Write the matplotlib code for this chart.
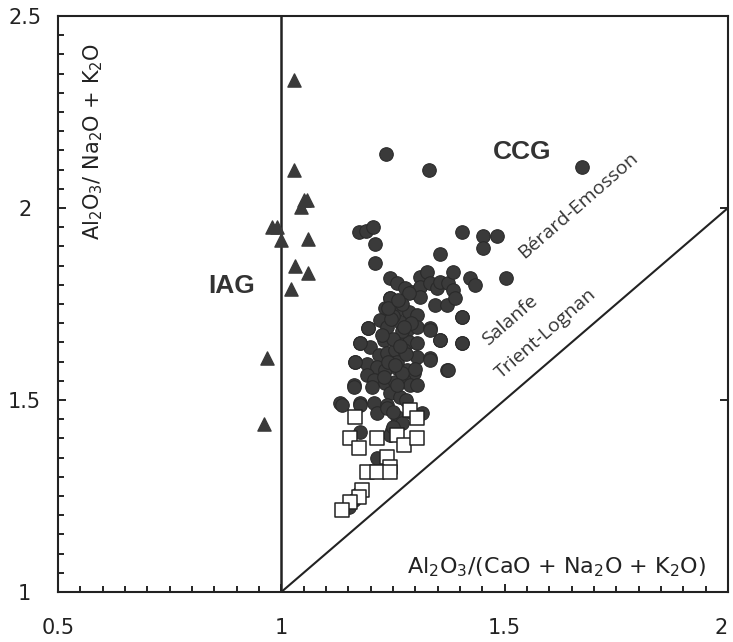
import matplotlib.pyplot as plt
from matplotlib.ticker import MultipleLocator

plt.rcParams['font.family'] = ['DejaVu Sans']
plt.rcParams['mathtext.default'] = 'regular'

# Datos
# IAG (triangulos)
tri_x = [1.029, 1.029, 1.058, 1.050, 1.043, 0.980, 0.990, 1.000, 1.060,
         1.030, 1.060, 1.022, 0.969, 0.962]
tri_y = [2.333, 2.100, 2.020, 2.020, 2.003, 1.950, 1.950, 1.917, 1.920,
         1.850, 1.830, 1.790, 1.609, 1.438]

# CCG (circulos)
circ_x = [1.235, 1.331, 1.674, 1.174, 1.190, 1.205, 1.210, 1.405, 1.452,
          1.483, 1.452, 1.355, 1.210, 1.504,
          1.244, 1.259, 1.277, 1.292, 1.311, 1.326, 1.311, 1.333, 1.348,
          1.356, 1.374, 1.385, 1.385, 1.423, 1.434, 1.311, 1.345, 1.371,
          1.389, 1.285, 1.404, 1.244, 1.233, 1.259, 1.285, 1.304, 1.221,
          1.236, 1.266, 1.281, 1.304, 1.333, 1.356, 1.404, 1.195, 1.177,
          1.199, 1.229, 1.259, 1.285, 1.304, 1.218, 1.236, 1.255, 1.274,
          1.304, 1.333, 1.166, 1.192, 1.214, 1.233, 1.259, 1.281, 1.296,
          1.371, 1.192, 1.207, 1.233, 1.255, 1.274, 1.289, 1.304, 1.162,
          1.203, 1.244, 1.266, 1.132, 1.177, 1.207, 1.236,
          1.136, 1.162, 1.166, 1.195, 1.177, 1.244, 1.404, 1.356, 1.404,
          1.333, 1.374, 1.333, 1.315, 1.177, 1.214, 1.236, 1.177, 1.259,
          1.248, 1.244, 1.214, 1.162, 1.173, 1.151,
          1.250, 1.270, 1.260, 1.280, 1.250, 1.270, 1.290, 1.240, 1.270,
          1.300, 1.260, 1.280, 1.250, 1.290, 1.270, 1.250,
          1.225, 1.245, 1.265, 1.230, 1.255, 1.275, 1.240, 1.262]
circ_y = [2.140, 2.099, 2.107, 1.938, 1.940, 1.950, 1.906, 1.938, 1.927,
          1.927, 1.896, 1.880, 1.857, 1.818,
          1.817, 1.804, 1.791, 1.782, 1.821, 1.834, 1.795, 1.804, 1.791,
          1.808, 1.804, 1.834, 1.786, 1.817, 1.799, 1.769, 1.747, 1.747,
          1.765, 1.778, 1.717, 1.765, 1.739, 1.734, 1.730, 1.721, 1.708,
          1.691, 1.704, 1.682, 1.691, 1.687, 1.656, 1.648, 1.687, 1.648,
          1.639, 1.656, 1.656, 1.652, 1.648, 1.617, 1.622, 1.630, 1.630,
          1.613, 1.609, 1.600, 1.595, 1.587, 1.578, 1.582, 1.578, 1.569,
          1.578, 1.565, 1.552, 1.543, 1.548, 1.552, 1.539, 1.539, 1.539,
          1.535, 1.517, 1.508, 1.491, 1.491, 1.491, 1.487,
          1.487, 1.535, 1.600, 1.687, 1.648, 1.765, 1.717, 1.656, 1.648,
          1.604, 1.578, 1.682, 1.465, 1.487, 1.465, 1.478, 1.417, 1.456,
          1.422, 1.409, 1.348, 1.240, 1.257, 1.222,
          1.720, 1.680, 1.600, 1.620, 1.660, 1.750, 1.700, 1.600, 1.570,
          1.580, 1.540, 1.500, 1.470, 1.470, 1.440, 1.430,
          1.670, 1.710, 1.640, 1.560, 1.590, 1.690, 1.740, 1.760]

# Cuadrados abiertos
sq_x = [1.166, 1.154, 1.173, 1.214, 1.259, 1.274, 1.304, 1.289, 1.304,
        1.236, 1.244, 1.192, 1.214, 1.244, 1.181, 1.173, 1.154, 1.136]
sq_y = [1.456, 1.400, 1.374, 1.400, 1.409, 1.383, 1.400, 1.474, 1.452,
        1.352, 1.326, 1.313, 1.313, 1.313, 1.266, 1.248, 1.235, 1.214]

# Lineas de limite
vline_x = [1, 1]
vline_y = [1, 2.5]
diag_x = [1, 2]
diag_y = [1, 2]

# Ticks
xticks = [0.5, 1, 1.5, 2]
xtick_labels = ['0.5', '1', '1.5', '2']
yticks = [1, 1.5, 2, 2.5]
ytick_labels = ['1', '1.5', '2', '2.5']

gris = '#3a3a3a'

fig = plt.figure(figsize=(7.33, 6.42), dpi=100)
ax = fig.add_axes([0.0791, 0.0779, 0.914, 0.8972])

ax.plot(vline_x, vline_y, color='#222222', lw=1.8)
ax.plot(diag_x, diag_y, color='#222222', lw=1.5)

ax.scatter(circ_x, circ_y, s=95, color=gris, edgecolor='#2a2a2a', linewidth=0.8, zorder=3)
ax.scatter(sq_x, sq_y, s=90, marker='s', facecolor='white', edgecolor='#222222', linewidth=1.1, zorder=4)
ax.scatter(tri_x, tri_y, s=90, marker='^', color=gris, zorder=3)

# Etiquetas de los campos
ax.text(0.889, 1.797, 'IAG', fontsize=19, fontweight='bold', family='Liberation Sans',
        color='#333333', ha='center', va='center')
ax.text(1.539, 2.146, 'CCG', fontsize=19, fontweight='bold', family='Liberation Sans',
        color='#333333', ha='center', va='center')
for txt, x, y in [('Bérard-Emosson', 1.664, 2.008), ('Salanfe', 1.513, 1.708), ('Trient-Lognan', 1.593, 1.672)]:
    ax.text(x, y, txt, fontsize=14, family='Open Sans', color='#333333', rotation=41,
            rotation_mode='anchor', ha='center', va='center')

# Titulos de ejes
ax.text(0.053, 0.953, 'Al$_2$O$_3$/ Na$_2$O + K$_2$O', transform=ax.transAxes, rotation=90,
        fontsize=15, color='#222222', ha='center', va='top')
ax.text(0.967, 0.043, 'Al$_2$O$_3$/(CaO + Na$_2$O + K$_2$O)', transform=ax.transAxes,
        fontsize=16, color='#222222', ha='right', va='center')

ax.set_xlim(0.5, 2)
ax.set_ylim(1, 2.5)
ax.set_xticks(xticks, xtick_labels)
ax.set_yticks(yticks, ytick_labels)
ax.xaxis.set_minor_locator(MultipleLocator(0.05))
ax.yaxis.set_minor_locator(MultipleLocator(0.05))
ax.tick_params(which='major', direction='in', length=6, width=1.2, labelsize=15,
               right=True, labelcolor='#222222')
ax.tick_params(which='minor', direction='in', length=4, width=1.2)
ax.tick_params(axis='x', which='major', pad=19)
ax.tick_params(axis='y', which='major', pad=24)
for lbl in ax.get_yticklabels():
    lbl.set_horizontalalignment('center')
# el "2" final queda pegado al borde derecho
ax.get_xticklabels()[-1].set_horizontalalignment('right')
for s in ax.spines.values():
    s.set_linewidth(1.5)
    s.set_color('#222222')

fig.savefig('out.png', dpi=100)
